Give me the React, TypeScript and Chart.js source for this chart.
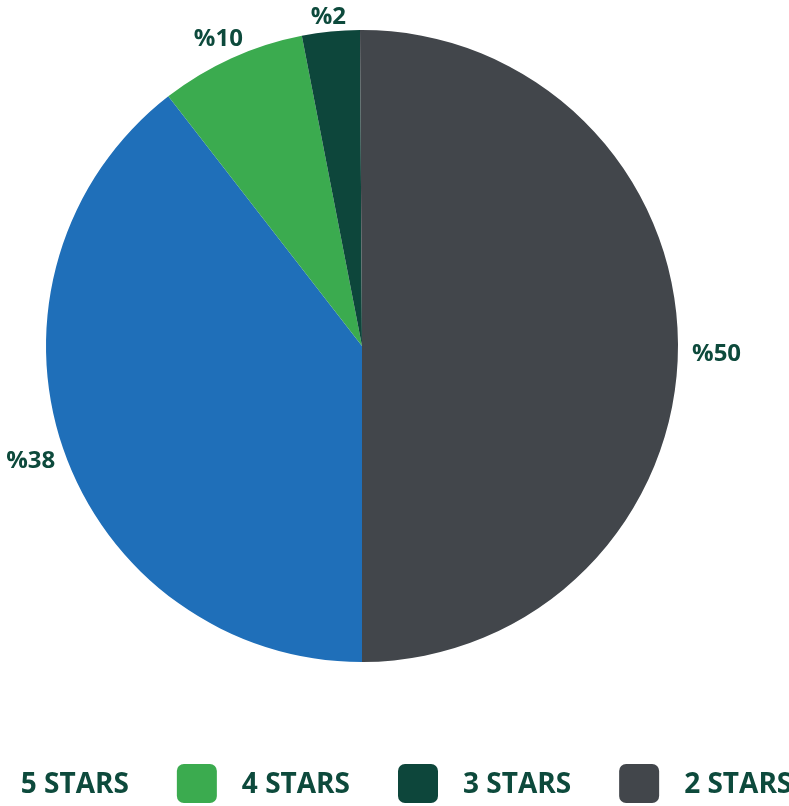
import React, { useEffect, useRef } from "react";
import { Chart, registerables } from "chart.js";

Chart.register(...registerables);

const categories = ["5 STARS", "4 STARS", "3 STARS", "2 STARS"];
const shares = [39.5, 7.45, 2.95, 50.1];
const shareLabels = ["%38", "%10", "%2", "%50"];
const colors = ["#1f6fb9", "#3bab4f", "#0d463b", "#42464b"];
const TEXT = "#0d4a3c";
const FONT = "'Open Sans', 'DejaVu Sans', sans-serif";

const labelPlugin = {
  id: "outerLabels",
  afterDatasetsDraw(chart: any) {
    const ctx = chart.ctx;
    const meta = chart.getDatasetMeta(0);
    ctx.save();
    ctx.font = `700 24px ${FONT}`;
    ctx.fillStyle = TEXT;
    ctx.textAlign = "center";
    ctx.textBaseline = "alphabetic";
    meta.data.forEach((arc: any, i: number) => {
      const p = arc.getProps(["x", "y", "startAngle", "endAngle", "outerRadius"], true);
      const mid = (p.startAngle + p.endAngle) / 2;
      const dx = Math.cos(mid);
      const dy = Math.sin(mid);
      const text = shareLabels[i];
      const w = ctx.measureText(text).width;
      const capH = 17;
      const lower = Math.min(Math.max(dy * 3, 0), 1);
      const d = p.outerRadius + 14 - 6 * lower + Math.abs(dx) * w / 2 + Math.abs(dy) * capH / 2;
      const shift = 8 * (1 - lower);
      const cx = p.x + dx * d;
      const cy = p.y + dy * d + shift;
      ctx.fillText(text, cx, cy + capH / 2);
    });
    ctx.restore();
  },
};

const legendPlugin = {
  id: "bottomLegend",
  afterDraw(chart: any) {
    const ctx = chart.ctx;
    const ds = chart.data.datasets[0];
    const labels: string[] = chart.data.labels;
    ctx.save();
    ctx.font = `700 28px ${FONT}`;
    const box = 40;
    const boxH = 39;
    const gap = 25;
    const pad = 48;
    const widths = labels.map((c) => ctx.measureText(c).width);
    const total = widths.reduce((s, w) => s + box + gap + w, 0) + pad * (labels.length - 1);
    let x = (chart.chartArea.left + chart.chartArea.right) / 2 + 12 - total / 2;
    const yMid = chart.height - 22.5;
    labels.forEach((lab, i) => {
      ctx.fillStyle = ds.backgroundColor[i];
      ctx.beginPath();
      ctx.roundRect(x, yMid - boxH / 2, box, boxH, 7);
      ctx.fill();
      ctx.fillStyle = TEXT;
      ctx.textAlign = "left";
      ctx.textBaseline = "alphabetic";
      ctx.fillText(lab, x + box + gap, yMid + 9.5);
      x += box + gap + widths[i] + pad;
    });
    ctx.restore();
  },
};

export default function App() {
  const ref = useRef<HTMLCanvasElement>(null);
  useEffect(() => {
    const chart = new Chart(ref.current as HTMLCanvasElement, {
      type: "pie",
      data: {
        labels: categories,
        datasets: [{ data: shares, backgroundColor: colors, borderWidth: 0 }],
      },
      options: {
        responsive: false,
        animation: false,
        rotation: 180,
        layout: { padding: { top: 30, bottom: 144, left: 0, right: 0 } },
        plugins: { legend: { display: false }, tooltip: { enabled: false } },
      },
      plugins: [labelPlugin, legendPlugin],
    } as any);
    return () => chart.destroy();
  }, []);
  return (
    <div
      style={{
        position: "fixed",
        left: 0,
        top: 0,
        width: 789,
        height: 806,
        overflow: "hidden",
        background: "#fff",
      }}
    >
      <canvas
        ref={ref}
        width={884}
        height={806}
        style={{ position: "absolute", left: -80, top: 0 }}
      />
    </div>
  );
}
